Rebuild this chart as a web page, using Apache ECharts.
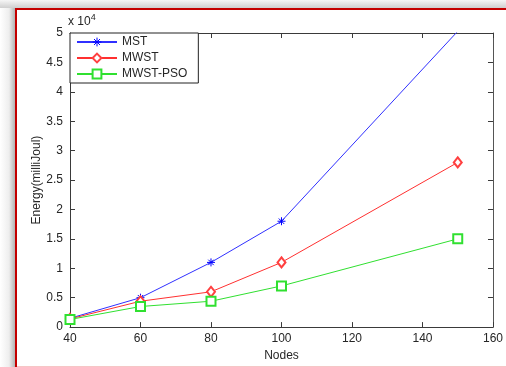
<!DOCTYPE html>
<html>
<head>
<meta charset="utf-8">
<script src="https://cdn.jsdelivr.net/npm/echarts@6/dist/echarts.min.js"></script>
<style>
  html, body { margin: 0; padding: 0; background: #fff; }
  #chart { width: 506px; height: 367px; }
</style>
</head>
<body>
<div id="chart"></div>
<script>
// data
const nodes = [40, 60, 80, 100, 150];
const mst = [1500, 5000, 11000, 18000, 50300];
const mwst = [1400, 4400, 6000, 11000, 28000];
const mwstPso = [1300, 3500, 4400, 7000, 15000];
const yMax = 50000;

const font = 'Liberation Sans, Arial, sans-serif';
const textColor = '#262626';
const axisColor = '#3a3a3a';
const asterisk = 'path://M5,0L5,10M0,5L10,5M1.6,1.6L8.4,8.4M1.6,8.4L8.4,1.6';

// MATLAB clips markers that fall outside the axes
const pairs = (ys) => nodes.map((x, i) =>
  ys[i] > yMax ? { value: [x, ys[i]], symbol: 'none' } : [x, ys[i]]);

const chart = echarts.init(document.getElementById('chart'));

const tickStyle = { inside: true, length: 5, lineStyle: { color: axisColor, width: 1 } };

const option = {
  animation: false,
  backgroundColor: '#fff',
  textStyle: { fontFamily: font },
  graphic: [
    // frame shadow + red border around the figure
    {
      type: 'rect', silent: true, z: -10,
      shape: { x: 0, y: 0, width: 506, height: 8 },
      style: { fill: new echarts.graphic.LinearGradient(0, 0, 0, 1, [
        { offset: 0, color: '#f6f6f6' }, { offset: 1, color: '#cfcfcf' }]) }
    },
    {
      type: 'rect', silent: true, z: -10,
      shape: { x: 0, y: 8, width: 15, height: 359 },
      style: { fill: new echarts.graphic.LinearGradient(0, 0, 1, 0, [
        { offset: 0, color: '#ffffff' }, { offset: 0.6, color: '#eeeeee' }, { offset: 1, color: '#b4b4b4' }]) }
    },
    {
      type: 'line', silent: true, z: -5,
      shape: { x1: 15, y1: 9, x2: 506, y2: 9 },
      style: { stroke: '#c40000', lineWidth: 2 }
    },
    {
      type: 'line', silent: true, z: -5,
      shape: { x1: 16, y1: 8, x2: 16, y2: 367 },
      style: { stroke: '#c40000', lineWidth: 2 }
    },
    {
      type: 'line', silent: true, z: -4,
      shape: { x1: 17, y1: 366.5, x2: 506, y2: 366.5 },
      style: { stroke: '#f6c6c6', lineWidth: 1 }
    },
    {
      type: 'text', silent: true,
      left: 68, top: 13,
      style: {
        text: 'x 10{sup|4}',
        fill: textColor, font: '12px ' + font,
        rich: { sup: { fontSize: 9, verticalAlign: 'top', padding: [0, 0, 8, 0], fill: textColor } }
      }
    }
  ],
  legend: {
    orient: 'vertical',
    left: 70, top: 33,
    padding: [3, 11, 3, 6],
    itemGap: 4,
    itemWidth: 40, itemHeight: 11,
    backgroundColor: '#fff',
    borderColor: '#222', borderWidth: 1,
    itemStyle: { borderWidth: 1 },
    textStyle: { fontFamily: font, fontSize: 12, color: textColor },
    data: ['MST', 'MWST', 'MWST-PSO']
  },
  grid: { left: 70, right: 13, top: 33, bottom: 39 },
  xAxis: [
    {
      type: 'value', min: 40, max: 160, interval: 20,
      name: 'Nodes', nameLocation: 'middle', nameGap: 17,
      nameTextStyle: { fontFamily: font, fontSize: 12, color: textColor },
      axisLine: { onZero: false, lineStyle: { color: axisColor, width: 1 } },
      axisTick: tickStyle,
      axisLabel: { margin: 6, fontFamily: font, fontSize: 12, color: textColor },
      splitLine: { show: false }
    },
    {
      type: 'value', min: 40, max: 160, interval: 20, position: 'top',
      axisLine: { onZero: false, lineStyle: { color: axisColor, width: 1 } },
      axisTick: tickStyle, axisLabel: { show: false }, splitLine: { show: false }
    }
  ],
  yAxis: [
    {
      type: 'value', min: 0, max: yMax, interval: 5000,
      name: 'Energy(milliJoul)', nameLocation: 'middle', nameGap: 27,
      nameMoveOverlap: false,
      nameTextStyle: { fontFamily: font, fontSize: 12, color: textColor },
      axisLine: { show: true, lineStyle: { color: axisColor, width: 1 } },
      axisTick: tickStyle,
      axisLabel: {
        margin: 7, fontFamily: font, fontSize: 12, color: textColor,
        formatter: (v) => String(v / 10000)
      },
      splitLine: { show: false }
    },
    {
      type: 'value', min: 0, max: yMax, interval: 5000, position: 'right',
      axisLine: { show: true, lineStyle: { color: '#555', width: 1 } },
      axisTick: tickStyle, axisLabel: { show: false }, splitLine: { show: false }
    }
  ],
  series: [
    {
      name: 'MST', type: 'line', data: pairs(mst),
      symbol: asterisk, symbolSize: 8,
      lineStyle: { color: '#3030ff', width: 1 },
      itemStyle: { color: '#0000ff', borderColor: '#0000ff', borderWidth: 1 },
      clip: true
    },
    {
      name: 'MWST', type: 'line', data: pairs(mwst),
      symbol: 'emptyDiamond', symbolSize: [8, 10],
      lineStyle: { color: '#ff3030', width: 1 },
      itemStyle: { color: '#ff4040', borderWidth: 0.8 }
    },
    {
      name: 'MWST-PSO', type: 'line', data: pairs(mwstPso),
      symbol: 'emptyRect', symbolSize: 9,
      lineStyle: { color: '#30e030', width: 1 },
      itemStyle: { color: '#30e030', borderWidth: 0.8 }
    }
  ]
};

chart.setOption(option);
</script>
</body>
</html>
